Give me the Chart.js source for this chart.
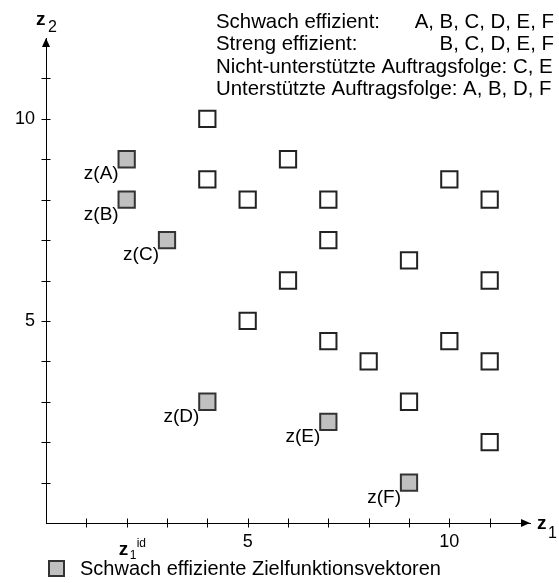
<!DOCTYPE html>
<html>
<head>
<meta charset="utf-8">
<script src="https://cdn.jsdelivr.net/npm/chart.js@4"></script>
<style>
  body { margin: 0; background: #fff; }
  #wrap { width: 559px; height: 583px; }
</style>
</head>
<body>
<div id="wrap"><canvas id="chart"></canvas></div>
<script>
// Schwach effiziente Zielfunktionsvektoren z(A) ... z(F)
const effX = [2, 2, 3, 4, 7, 9];
const effY = [9, 8, 7, 3, 2.5, 1];
const effNames = ["A", "B", "C", "D", "E", "F"];

// übrige Zielfunktionsvektoren
const otherX = [4, 4, 6, 5, 7, 10, 11, 7, 9, 6, 11, 5, 7, 10, 8, 11, 9, 11];
const otherY = [10, 8.5, 9, 8, 8, 8.5, 8, 7, 6.5, 6, 6, 5, 4.5, 4.5, 4, 4, 3, 2];

// Achsenbeschriftung
const xTickLabels = { 5: "5", 10: "10" };
const yTickLabels = { 5: "5", 10: "10" };
const idealTick = 2;

// Textblock oben rechts
const infoLeft = [
  "Schwach effizient:",
  "Streng effizient:",
  "Nicht-unterstützte Auftragsfolge: C, E",
  "Unterstützte Auftragsfolge: A, B, D, F"
];
const infoRight = ["A, B, C, D, E, F", "B, C, D, E, F", "", ""];

const legendText = "Schwach effiziente Zielfunktionsvektoren";

function toPoints(xs, ys) {
  return xs.map((x, i) => ({ x: x, y: ys[i] }));
}

// Zeichnet Achsenpfeile, Striche, Texte
const decoPlugin = {
  id: "deco",
  afterDraw(chart) {
    const ctx = chart.ctx;
    const xs = chart.scales.x;
    const ys = chart.scales.y;
    const x0 = xs.getPixelForValue(0);
    const y0 = ys.getPixelForValue(0);
    const xEnd = xs.getPixelForValue(12);
    const yEnd = ys.getPixelForValue(12);

    ctx.save();
    ctx.strokeStyle = "#000";
    ctx.fillStyle = "#000";
    ctx.lineWidth = 1;

    // Striche
    ctx.beginPath();
    for (let i = 1; i <= 11; i++) {
      const px = Math.round(xs.getPixelForValue(i)) + 0.5;
      ctx.moveTo(px, y0 - 4.5);
      ctx.lineTo(px, y0 + 4.5);
      const py = Math.round(ys.getPixelForValue(i)) + 0.5;
      ctx.moveTo(x0 - 4.5, py);
      ctx.lineTo(x0 + 4.5, py);
    }
    ctx.stroke();

    // Pfeilspitzen
    ctx.beginPath();
    ctx.moveTo(xEnd, y0);
    ctx.lineTo(xEnd - 9, y0 - 4);
    ctx.lineTo(xEnd - 9, y0 + 4);
    ctx.closePath();
    ctx.fill();
    ctx.beginPath();
    ctx.moveTo(x0, yEnd);
    ctx.lineTo(x0 - 4, yEnd + 9);
    ctx.lineTo(x0 + 4, yEnd + 9);
    ctx.closePath();
    ctx.fill();

    // Achsentitel
    ctx.textAlign = "left";
    ctx.textBaseline = "alphabetic";
    ctx.font = "bold 19px 'Liberation Sans', Arial, sans-serif";
    ctx.fillText("z", x0 - 10, 25);
    ctx.font = "16px 'Liberation Sans', Arial, sans-serif";
    ctx.fillText("2", x0 + 2, 32);

    ctx.font = "bold 19px 'Liberation Sans', Arial, sans-serif";
    ctx.fillText("z", xEnd + 7, y0 + 6);
    ctx.font = "16px 'Liberation Sans', Arial, sans-serif";
    ctx.fillText("1", xEnd + 18, y0 + 15);

    // z1 id
    const idx = xs.getPixelForValue(idealTick);
    ctx.font = "bold 19px 'Liberation Sans', Arial, sans-serif";
    ctx.fillText("z", idx - 8, 555);
    ctx.font = "12px 'Liberation Sans', Arial, sans-serif";
    ctx.fillText("1", idx + 3, 559);
    ctx.fillText("id", idx + 10, 547);

    // Punktnamen
    ctx.font = "19px 'Liberation Sans', Arial, sans-serif";
    ctx.textAlign = "right";
    effNames.forEach((n, i) => {
      const px = xs.getPixelForValue(effX[i]);
      const py = ys.getPixelForValue(effY[i]);
      ctx.fillText("z(" + n + ")", px - 8, py + 20);
    });

    // Textblock
    ctx.font = "20.4px 'Liberation Sans', Arial, sans-serif";
    infoLeft.forEach((t, i) => {
      ctx.textAlign = "left";
      ctx.fillText(t, 216, 28 + i * 22.3);
      if (infoRight[i]) {
        ctx.textAlign = "right";
        ctx.fillText(infoRight[i], 554, 28 + i * 22.3);
      }
    });

    // Legende
    const ds = chart.data.datasets[0];
    ctx.font = "20px 'Liberation Sans', Arial, sans-serif";
    ctx.fillStyle = ds.backgroundColor;
    ctx.strokeStyle = ds.borderColor;
    ctx.lineWidth = ds.borderWidth;
    ctx.fillRect(49, 561, 15, 15);
    ctx.strokeRect(49, 561, 15, 15);
    ctx.fillStyle = "#000";
    ctx.textAlign = "left";
    ctx.fillText(legendText, 80, 575);

    ctx.restore();
  }
};

new Chart(document.getElementById("chart"), {
  type: "scatter",
  data: {
    datasets: [
      {
        label: legendText,
        data: toPoints(effX, effY),
        pointStyle: "rect",
        pointRadius: 11.5,
        pointHoverRadius: 11.5,
        backgroundColor: "#c0c0c0",
        borderColor: "#333",
        borderWidth: 2,
        clip: false
      },
      {
        label: "Zielfunktionsvektoren",
        data: toPoints(otherX, otherY),
        pointStyle: "rect",
        pointRadius: 11.5,
        pointHoverRadius: 11.5,
        backgroundColor: "#fff",
        borderColor: "#222",
        borderWidth: 2,
        clip: false
      }
    ]
  },
  options: {
    responsive: true,
    maintainAspectRatio: false,
    animation: false,
    layout: { padding: { top: 38, right: 29, left: 0, bottom: 0 } },
    plugins: {
      legend: { display: false },
      tooltip: { enabled: false }
    },
    scales: {
      x: {
        type: "linear",
        min: 0,
        max: 12,
        grid: { display: false, drawTicks: false },
        border: { display: true, color: "#000", width: 1 },
        ticks: {
          stepSize: 1,
          padding: 8,
          color: "#000",
          font: { family: "'Liberation Sans', Arial, sans-serif", size: 18 },
          maxRotation: 0,
          autoSkip: false,
          callback: v => xTickLabels[v] || ""
        },
        afterFit(scale) { scale.height = 60; }
      },
      y: {
        type: "linear",
        min: 0,
        max: 12,
        grid: { display: false, drawTicks: false },
        border: { display: true, color: "#000", width: 1 },
        ticks: {
          stepSize: 1,
          padding: 11,
          color: "#000",
          font: { family: "'Liberation Sans', Arial, sans-serif", size: 18 },
          autoSkip: false,
          callback: v => yTickLabels[v] || ""
        },
        afterFit(scale) { scale.width = 46; }
      }
    }
  },
  plugins: [decoPlugin]
});
</script>
</body>
</html>
